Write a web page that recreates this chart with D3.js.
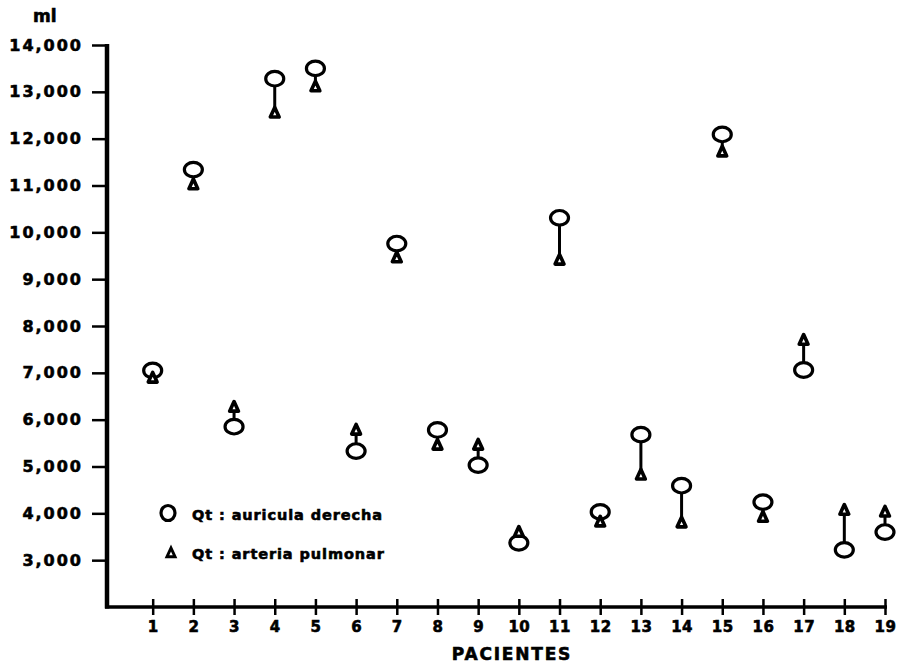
<!DOCTYPE html>
<html>
<head>
<meta charset="utf-8">
<script src="https://cdn.jsdelivr.net/npm/d3@7"></script>
<style>
  body { margin: 0; background: #fff; }
  text { font-family: "DejaVu Sans", sans-serif; font-weight: bold; fill: #000; stroke: #000; stroke-width: 0.6px; }
</style>
</head>
<body>
<div id="chart"></div>
<script>
// pacientes y gasto cardiaco (ml)
const pacientes = [1, 2, 3, 4, 5, 6, 7, 8, 9, 10, 11, 12, 13, 14, 15, 16, 17, 18, 19];
const auricula = [7050, 11340, 5850, 13280, 13500, 5330, 9760, 5780, 5030, 3370, 10310, 4030, 5680, 4590, 12090, 4240, 7060, 3220, 3600];
const arteria = [6890, 11020, 6270, 12550, 13110, 5780, 9460, 5460, 5460, 3600, 9410, 3820, 4820, 3800, 11720, 3920, 7700, 4070, 4030];
const yTicks = [3000, 4000, 5000, 6000, 7000, 8000, 9000, 10000, 11000, 12000, 13000, 14000];
const legendLabels = ["Qt : auricula derecha", "Qt : arteria pulmonar"];

const width = 908, height = 664;

const svg = d3.select("#chart").append("svg")
    .attr("width", width).attr("height", height);

const x = d3.scaleLinear().domain([0, 19]).range([112, 885]);
const y = d3.scaleLinear().domain([2000, 14000]).range([607, 45]);

const fmt = d3.format(",");

// y axis
const yAxis = svg.append("g").attr("transform", "translate(107,0)")
    .call(d3.axisLeft(y).tickValues(yTicks).tickFormat(fmt).tickSize(15).tickPadding(9));
yAxis.select(".domain").remove();
yAxis.selectAll(".tick line").attr("stroke", "#000").attr("stroke-width", 2.5);
yAxis.selectAll(".tick text")
    .attr("font-size", 16).attr("letter-spacing", 2)
    .attr("font-family", "DejaVu Sans").attr("font-weight", "bold");

svg.append("line")
    .attr("x1", 107).attr("x2", 107)
    .attr("y1", y(14000) - 1).attr("y2", y(2000) + 1.5)
    .attr("stroke", "#000").attr("stroke-width", 4.5);

// x axis
svg.append("line")
    .attr("x1", 105).attr("x2", x(19) + 2)
    .attr("y1", y(2000)).attr("y2", y(2000))
    .attr("stroke", "#000").attr("stroke-width", 3.5);

const xAxis = svg.append("g").attr("transform", `translate(0,${y(2000) - 8})`)
    .call(d3.axisBottom(x).tickValues(pacientes).tickSize(16).tickPadding(6));
xAxis.select(".domain").remove();
xAxis.selectAll(".tick line").attr("stroke", "#000").attr("stroke-width", 2.5);
xAxis.selectAll(".tick text")
    .attr("font-size", 15).attr("letter-spacing", 0.5)
    .attr("font-family", "DejaVu Sans").attr("font-weight", "bold");

svg.append("text").attr("x", 33).attr("y", 22).attr("font-size", 17).text("ml");
svg.append("text").attr("x", 512).attr("y", 660).attr("text-anchor", "middle")
    .attr("font-size", 17).attr("letter-spacing", 1.8).text("PACIENTES");

// markers
const tri = (cx, cy, s) => `M${cx},${cy - s}L${cx + s * 0.8},${cy + s * 0.75}L${cx - s * 0.8},${cy + s * 0.75}Z`;

const g = svg.append("g");
g.selectAll("line.link").data(pacientes).enter().append("line")
    .attr("class", "link")
    .attr("x1", d => x(d)).attr("x2", d => x(d))
    .attr("y1", (d, i) => y(auricula[i])).attr("y2", (d, i) => y(arteria[i]))
    .attr("stroke", "#000").attr("stroke-width", 3);

g.selectAll("ellipse").data(pacientes).enter().append("ellipse")
    .attr("cx", d => x(d)).attr("cy", (d, i) => y(auricula[i]))
    .attr("rx", 9).attr("ry", 7.3)
    .attr("fill", "#fff").attr("stroke", "#000").attr("stroke-width", 3.2);

g.selectAll("path.tri").data(pacientes).enter().append("path")
    .attr("class", "tri")
    .attr("d", (d, i) => tri(x(d), y(arteria[i]), 5.5))
    .attr("fill", "#fff").attr("stroke", "#000").attr("stroke-width", 3.6)
    .attr("stroke-linejoin", "round");

// legend
const lg = svg.append("g");
lg.append("ellipse").attr("cx", 168).attr("cy", 513).attr("rx", 7).attr("ry", 7.5)
    .attr("fill", "#fff").attr("stroke", "#000").attr("stroke-width", 3.2);
lg.append("path").attr("d", tri(171, 553, 5))
    .attr("fill", "#fff").attr("stroke", "#000").attr("stroke-width", 3);
lg.selectAll("text").data(legendLabels).enter().append("text")
    .attr("x", 192).attr("y", (d, i) => 520 + i * 39)
    .attr("font-size", 14.5).attr("letter-spacing", 0.9)
    .text(d => d);
</script>
</body>
</html>
